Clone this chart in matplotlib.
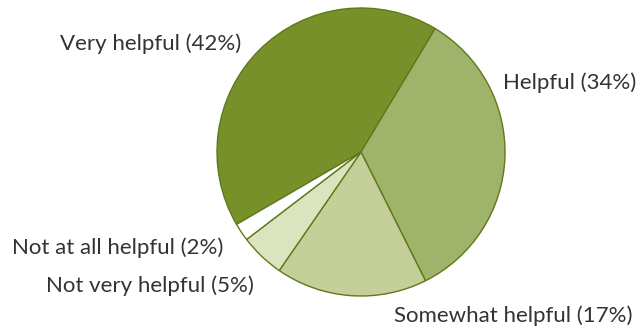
import matplotlib.pyplot as plt

labels = ['Very helpful', 'Helpful', 'Somewhat helpful', 'Not very helpful', 'Not at all helpful']
shares = [42, 34, 17, 5, 2]
colors = ['#77902a', '#a0b36a', '#c4cf9a', '#dce4bf', '#ffffff']

# label anchor points in pixels (x from left, y from top)
label_px = [(151, 44), (570, 83), (513, 316), (150, 286), (118, 248)]

plt.rcParams['font.family'] = ['Lato', 'DejaVu Sans']

W, H = 641, 335
cx, cy, r = 361, 152, 144

fig = plt.figure(figsize=(W / 100, H / 100), dpi=100)
ax = fig.add_axes([0, 0, 1, 1])

ax.pie(shares, colors=colors, startangle=210.2, counterclock=False,
       wedgeprops=dict(edgecolor='#5d7a1a', linewidth=1.0))

# one data unit = pie radius in pixels
ax.set_xlim(-cx / r, (W - cx) / r)
ax.set_ylim((cy - H) / r, cy / r)
ax.set_aspect('auto')
ax.axis('off')

for name, val, (px, py) in zip(labels, shares, label_px):
    ax.text((px - cx) / r, (cy - py) / r, f'{name} ({val}%)',
            ha='center', va='center', fontsize=16, color='#333333')

fig.savefig('out.png', dpi=100)
